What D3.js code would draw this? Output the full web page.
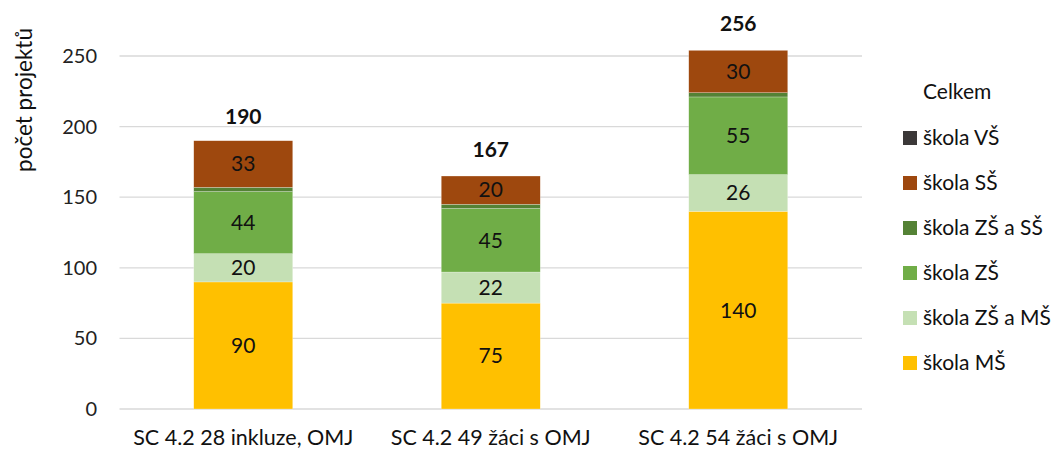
<!DOCTYPE html>
<html>
<head>
<meta charset="utf-8">
<script src="https://cdn.jsdelivr.net/npm/d3@7"></script>
<style>
  body { margin: 0; background: #fff; }
  svg { font-family: Lato, "Open Sans", sans-serif; }
</style>
</head>
<body>
<svg id="chart" width="1056" height="450"></svg>
<script>
const categories = ["SC 4.2 28 inkluze, OMJ", "SC 4.2 49 žáci s OMJ", "SC 4.2 54 žáci s OMJ"];
const seriesNames = ["škola MŠ", "škola ZŠ a MŠ", "škola ZŠ", "škola ZŠ a SŠ", "škola SŠ", "škola VŠ"];
const skolaMS   = [90, 75, 140];
const skolaZSMS = [20, 22, 26];
const skolaZS   = [44, 45, 55];
const skolaZSSS = [3, 3, 3];
const skolaSS   = [33, 20, 30];
const skolaVS   = [0, 0, 0];
const celkem    = [190, 167, 256];
const yTicks    = [0, 50, 100, 150, 200, 250];
const colors    = ["#FFC000", "#C5E0B4", "#70AD47", "#548235", "#9E480E", "#3B3838"];
const showLabel = [true, true, true, false, true, false];

const seriesValues = [skolaMS, skolaZSMS, skolaZS, skolaZSSS, skolaSS, skolaVS];
const table = categories.map((c, i) => {
  const row = { cat: c };
  seriesNames.forEach((s, j) => row[s] = seriesValues[j][i]);
  return row;
});

const svg = d3.select("#chart");
const x = d3.scaleBand().domain(categories).range([119.5, 862]).paddingInner(0.6).paddingOuter(0.3);
const y = d3.scaleLinear().domain([0, 250]).range([409, 56]);

// gridlines
svg.append("g").selectAll("line").data(yTicks).join("line")
  .attr("x1", 119.5).attr("x2", 862)
  .attr("y1", d => y(d)).attr("y2", d => y(d))
  .attr("stroke", "#D9D9D9").attr("stroke-width", 1.3);

// y tick labels
svg.append("g").selectAll("text").data(yTicks).join("text")
  .attr("x", 97).attr("y", d => y(d)).attr("dy", "0.35em")
  .attr("text-anchor", "end").attr("font-size", 20).attr("fill", "#222")
  .text(d => d);

// y title
svg.append("text")
  .attr("transform", "translate(24,100) rotate(-90)")
  .attr("text-anchor", "middle").attr("dy", "0.35em")
  .attr("font-size", 22.5).attr("fill", "#111")
  .text("počet projektů");

const stack = d3.stack().keys(seriesNames)(table);

const g = svg.append("g");
stack.forEach((layer, j) => {
  g.selectAll(null).data(layer).join("rect")
    .attr("x", d => x(d.data.cat))
    .attr("width", x.bandwidth())
    .attr("y", d => y(d[1]))
    .attr("height", d => y(d[0]) - y(d[1]))
    .attr("fill", colors[j])
    .attr("stroke", "#fff").attr("stroke-opacity", 0.5).attr("stroke-width", 0.5);
  if (showLabel[j]) {
    g.selectAll(null).data(layer).join("text")
      .attr("x", d => x(d.data.cat) + x.bandwidth() / 2)
      .attr("y", d => (y(d[0]) + y(d[1])) / 2)
      .attr("dy", "0.35em").attr("text-anchor", "middle")
      .attr("font-size", 21).attr("fill", "#111")
      .text(d => d[1] - d[0]);
  }
});

// totals
svg.append("g").selectAll("text").data(categories).join("text")
  .attr("x", d => x(d) + x.bandwidth() / 2)
  .attr("y", (d, i) => y(celkem[i]) - 24)
  .attr("dy", "0.35em").attr("text-anchor", "middle")
  .attr("font-size", 21).attr("font-weight", "bold").attr("fill", "#111")
  .text((d, i) => celkem[i]);

// x labels
svg.append("g").selectAll("text").data(categories).join("text")
  .attr("x", d => x(d) + x.bandwidth() / 2)
  .attr("y", 437).attr("dy", "0.35em").attr("text-anchor", "middle")
  .attr("font-size", 21.5).attr("fill", "#111")
  .text(d => d);

// legend
const legend = svg.append("g");
legend.append("text").attr("x", 923).attr("y", 92).attr("dy", "0.35em")
  .attr("font-size", 21).attr("fill", "#111").text("Celkem");
const legendOrder = [5, 4, 3, 2, 1, 0];
legendOrder.forEach((j, k) => {
  const ly = 138 + k * 45;
  legend.append("rect").attr("x", 903).attr("y", ly - 7).attr("width", 14).attr("height", 14).attr("fill", colors[j]);
  legend.append("text").attr("x", 923).attr("y", ly).attr("dy", "0.35em")
    .attr("font-size", 21).attr("fill", "#111").text(seriesNames[j]);
});
</script>
</body>
</html>
